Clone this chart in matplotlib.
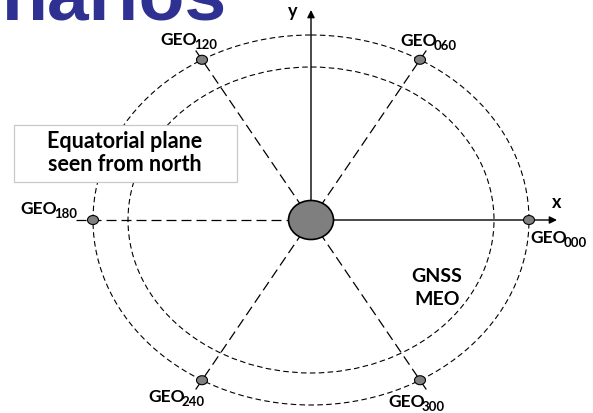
import numpy as np
import matplotlib
matplotlib.use("Agg")
from matplotlib import pyplot as plt
from matplotlib.patches import Ellipse, Rectangle

# diagram data (pixel frame of the original slide)
center = (311, 220)
geo_angles = [0, 60, 120, 180, 240, 300]
geo_names = ["000", "060", "120", "180", "240", "300"]
geo_orbit = (218, 185)   # semi axes of GEO ring
meo_orbit = (183, 153)   # semi axes of GNSS MEO ring
earth_size = (45, 39)

# label placement: (x, y) with y = baseline
label_pos = {
    "000": (530, 243),
    "060": (400, 46),
    "120": (160, 45),
    "180": (20, 214),
    "240": (148, 402),
    "300": (388, 407),
}

plt.rcParams['font.family'] = ['Lato', 'DejaVu Sans']

fig = plt.figure(figsize=(5.93, 4.13), dpi=100)
ax = fig.add_axes([0, 0, 1, 1])
ax.set_xlim(0, 593)
ax.set_ylim(413, 0)
ax.axis('off')

# partial slide title
ax.text(227, 19, "narios", ha='right', va='baseline', fontsize=54,
        fontweight='bold', color='#2e3192', family='Liberation Sans')

cx, cy = center
# orbits
for a, b in [geo_orbit, meo_orbit]:
    ax.add_patch(Ellipse(center, 2 * a, 2 * b, fill=False, ec='black',
                         lw=0.8, ls=(0, (5, 3)), zorder=2))

# radial lines to the GEO positions
pts = []
for ang in geo_angles:
    t = np.deg2rad(ang)
    px = cx + geo_orbit[0] * np.cos(t)
    py = cy - geo_orbit[1] * np.sin(t)
    pts.append((px, py))
    if ang == 0:
        continue
    ex = cx + 1.08 * (px - cx)
    ey = cy + 1.08 * (py - cy)
    ax.plot([cx, ex], [cy, ey], color='black', lw=0.9,
            ls=(0, (8, 4)), zorder=2)

# axes arrows
ax.annotate("", xy=(557, cy), xytext=(cx, cy),
            arrowprops=dict(arrowstyle='-|>', color='black', lw=1.0,
                            mutation_scale=11, shrinkA=0, shrinkB=0), zorder=3)
ax.annotate("", xy=(cx, 10), xytext=(cx, cy),
            arrowprops=dict(arrowstyle='-|>', color='black', lw=1.0,
                            mutation_scale=11, shrinkA=0, shrinkB=0), zorder=3)
ax.text(557, 203, "x", ha='center', va='center', fontsize=13, fontweight='bold')
ax.text(293, 12, "y", ha='center', va='center', fontsize=13, fontweight='bold')

# earth
ax.add_patch(Ellipse(center, earth_size[0], earth_size[1], fc='#7f7f7f',
                     ec='black', lw=1.2, zorder=4))

# GEO satellites
for (px, py), name in zip(pts, geo_names):
    ax.add_patch(Ellipse((px, py), 11, 9, fc='#808080', ec='black',
                         lw=0.8, zorder=5))
    lx, ly = label_pos[name]
    txt = ax.text(lx, ly, "GEO", ha='left', va='baseline',
                  fontsize=12.5, fontweight='bold', zorder=6)
    ax.annotate(name, xy=(1, 0), xycoords=txt, xytext=(-2.0, -1.0),
                textcoords='offset points', ha='left', va='baseline',
                fontsize=9.5, fontweight='bold', zorder=6)

# GNSS MEO label
ax.text(437, 282, "GNSS", ha='center', va='baseline', fontsize=14,
        fontweight='bold')
ax.text(437, 305, "MEO", ha='center', va='baseline', fontsize=14,
        fontweight='bold')

# info box
ax.add_patch(Rectangle((14, 125), 223, 57, fc='white', ec='#c8c8c8',
                       lw=0.9, zorder=7))
ax.text(125, 148, "Equatorial plane", ha='center', va='baseline',
        fontsize=15.5, fontweight='bold', zorder=8)
ax.text(125, 171, "seen from north", ha='center', va='baseline',
        fontsize=15.5, fontweight='bold', zorder=8)

fig.savefig("out.png", dpi=100)
